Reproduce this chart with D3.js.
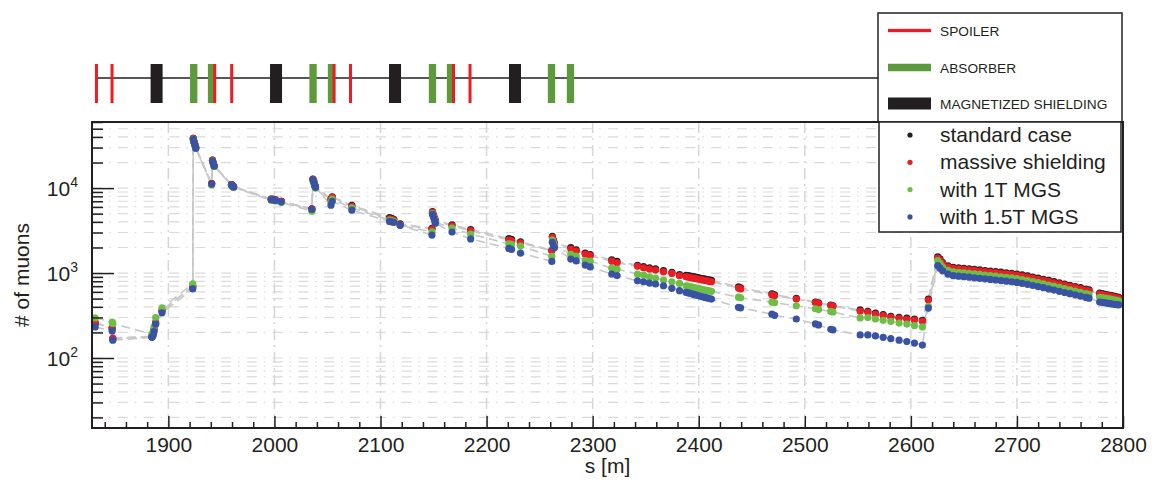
<!DOCTYPE html>
<meta charset="utf-8">
<head>
<style>
  body { margin: 0; background: #fff; }
  text { font-family: "Liberation Sans", Arial, Helvetica, sans-serif; fill: #231f20; }
</style>
</head>
<script src="https://d3js.org/d3.v7.min.js"></script>
<body>
<div id="my_dataviz"></div>
<script>
// ---- data ----
var sPos = [1831, 1847, 1847.6, 1884.5, 1885.5, 1886.5, 1888, 1894,
  1923, 1923.5, 1924.2, 1925, 1925.8,
  1940.8, 1941.6, 1942.4, 1943.2, 1959.5, 1960.5, 1961.5,
  1997, 1999, 2001, 2006.5,
  2035.3, 2036.3, 2037.1, 2037.9, 2038.7, 2053.3, 2054.5, 2073,
  2108.5, 2110.5, 2112.5, 2118.5,
  2148.5, 2149, 2150, 2151, 2151.8, 2167.4, 2185,
  2221, 2223.5, 2232,
  2261.5, 2262, 2263, 2264, 2279.4, 2284.5, 2293, 2297.7, 2318, 2323,
  2342.3, 2348, 2353.6, 2359.3, 2366.8, 2374.7, 2381.9,
  2388, 2390, 2392, 2394, 2396, 2398, 2400, 2402, 2404, 2406, 2408, 2410, 2412,
  2437.5, 2439.5, 2469, 2471.5, 2492, 2510, 2513, 2524.5, 2526.5,
  2552.2, 2559.4, 2566.6, 2573.9, 2581.1, 2588.9, 2596.2, 2603.4, 2610.9,
  2616.5, 2625.3, 2627.5,
  2630, 2635, 2640, 2645, 2650, 2655, 2660, 2665, 2670, 2675, 2680, 2685, 2690, 2695, 2700,
  2705, 2710, 2715, 2720, 2725, 2730, 2735, 2740, 2745, 2750, 2755, 2760, 2765, 2768,
  2778, 2780, 2782, 2784, 2786, 2788, 2790, 2792, 2794, 2796];

var standardCase = [255, 225, 168, 178, 188, 215, 255, 360,
  690, 38500, 35000, 32500, 30000,
  11300, 21300, 19600, 18300, 11000, 10600, 10400,
  7400, 7350, 7250, 7000,
  5700, 12800, 11900, 11000, 10400, 7400, 7900, 6250,
  4500, 4400, 4300, 3800,
  3350, 5300, 4850, 4450, 4150, 3700, 3250,
  2550, 2500, 2330,
  1850, 2700, 2450, 2250, 2000, 1880, 1720, 1650, 1430, 1370,
  1235, 1190, 1148, 1117, 1066, 1021, 957,
  941, 931, 920, 910, 900, 889, 879, 869, 860, 850, 840, 831, 822,
  690, 670, 570, 555, 505, 455, 445, 420, 412,
  368, 355, 337, 324, 310, 302, 294, 288, 278,
  495, 1550, 1470,
  1332, 1218, 1170, 1154, 1138, 1123, 1105, 1090, 1072, 1058, 1041, 1025, 1008, 992, 973,
  950, 924, 897, 871, 846, 818, 792, 766, 742, 719, 695, 672, 648, 636,
  580, 572, 565, 558, 551, 545, 538, 531, 524, 518];

var massiveShielding = [265, 220, 172, 180, 190, 220, 262, 365,
  700, 38500, 35000, 32500, 30000,
  11300, 21300, 19600, 18300, 11000, 10600, 10400,
  7400, 7350, 7250, 7000,
  5650, 12700, 11900, 11000, 10400, 7300, 7800, 6100,
  4350, 4300, 4200, 3700,
  3300, 5200, 4800, 4400, 4100, 3600, 3150,
  2450, 2400, 2270,
  1830, 2630, 2400, 2200, 1920, 1810, 1670, 1600, 1380, 1320,
  1199, 1154, 1114, 1084, 1035, 991, 929,
  905, 895, 885, 875, 865, 855, 845, 836, 827, 817, 808, 799, 790,
  665, 650, 555, 540, 494, 450, 438, 415, 408,
  357, 345, 327, 315, 301, 293, 285, 280, 270,
  481, 1500, 1420,
  1293, 1183, 1136, 1120, 1105, 1090, 1073, 1058, 1041, 1027, 1011, 995, 979, 963, 945,
  922, 897, 871, 846, 821, 794, 769, 744, 720, 698, 675, 652, 629, 617,
  566, 558, 551, 545, 538, 532, 525, 518, 512, 505];

var withMGS1T = [296, 265, 255, 190, 200, 235, 300, 390,
  745, 37500, 34500, 32000, 29500,
  10900, 21000, 19300, 18000, 10800, 10400, 10200,
  7200, 7150, 7050, 6800,
  5350, 12300, 11500, 10600, 10000, 6800, 7400, 5850,
  4200, 4150, 4050, 3650,
  3050, 5000, 4600, 4250, 3950, 3380, 2870,
  2200, 2180, 2080,
  1570, 2450, 2250, 2100, 1660, 1580, 1400, 1380, 1140, 1110,
  973, 946, 904, 873, 827, 790, 757,
  709, 700, 691, 682, 673, 665, 656, 648, 640, 632, 624, 616, 609,
  520, 512, 455, 448, 412, 380, 372, 353, 348,
  296, 299, 288, 278, 270, 258, 251, 240, 232,
  405, 1400, 1300,
  1177, 1077, 1034, 1019, 1006, 992, 976, 963, 947, 935, 920, 905, 891, 876, 860,
  839, 816, 793, 770, 747, 723, 700, 677, 655, 635, 614, 593, 572, 561,
  518, 513, 508, 503, 498, 493, 487, 482, 477, 472];

var withMGS15T = [232, 208, 162, 175, 183, 205, 250, 340,
  650, 37500, 34700, 32000, 29500,
  11150, 21000, 19400, 18100, 10900, 10500, 10300,
  7300, 7250, 7150, 6900,
  5600, 12500, 11700, 10800, 10200, 6300, 7000, 5500,
  4050, 4000, 3950, 3650,
  2800, 4900, 4500, 4150, 3850, 3040, 2520,
  1950, 1900, 1720,
  1370, 2300, 2100, 2000, 1460, 1390, 1240, 1180, 975, 935,
  811, 790, 762, 743, 709, 661, 620,
  593, 584, 575, 566, 557, 549, 540, 532, 524, 516, 509, 501, 494,
  395, 390, 328, 318, 288, 252, 245, 218, 214,
  187, 187, 182, 175, 169, 162, 156, 150, 142,
  387, 1220, 1140,
  1060, 970, 932, 918, 906, 894, 880, 868, 854, 842, 829, 816, 803, 790, 775,
  756, 736, 714, 694, 673, 651, 631, 610, 590, 572, 554, 535, 516, 506,
  456, 452, 448, 444, 440, 436, 432, 428, 425, 421];

var seriesNames = ["standard case", "massive shielding", "with 1T MGS", "with 1.5T MGS"];
var seriesColors = ["#231f20", "#ec1c24", "#6dbe45", "#3953a4"];

// beam line elements (centre position in s)
var spoilerS = [1832.2, 1846.9, 1943.7, 1959.7, 2056.2, 2071.7, 2168.8, 2184.4];
var absorberS = [1923.9, 1940.7, 2036.4, 2053.8, 2149, 2166, 2261.2, 2279.1];
var mgsS = [1888.9, 2001.5, 2113.7, 2226.8];
var elementNames = ["SPOILER", "ABSORBER", "MAGNETIZED SHIELDING"];

var xTickLabels = [1900, 2000, 2100, 2200, 2300, 2400, 2500, 2600, 2700, 2800];
var yTickLabels = [100, 1000, 10000];

// ---- layout ----
var margin = {top: 122, right: 29, bottom: 53, left: 92},
    width = 1152 - margin.left - margin.right,
    height = 481 - margin.top - margin.bottom;

var svg = d3.select("#my_dataviz")
  .append("svg")
    .attr("width", 1152)
    .attr("height", 481);

var chartG = svg.append("g")
    .attr("transform", "translate(" + margin.left + "," + margin.top + ")");

var x = d3.scaleLinear().domain([1828, 2800]).range([0, width]);
var y = d3.scaleLog().domain([15, 60000]).range([height, 0]);

svg.append("defs").append("clipPath").attr("id", "plotclip")
  .append("rect").attr("width", width).attr("height", height);

// grid
chartG.append("g").selectAll("line")
  .data(y.ticks())
  .join("line")
    .attr("x1", 0).attr("x2", width)
    .attr("y1", function(d) { return y(d); })
    .attr("y2", function(d) { return y(d); })
    .attr("stroke", "#dadada")
    .attr("stroke-width", 1.2)
    .attr("stroke-dasharray", "10,7,1.5,7.3");

chartG.append("g").selectAll("line")
  .data(xTickLabels.slice(0, -1))
  .join("line")
    .attr("x1", function(d) { return x(d); })
    .attr("x2", function(d) { return x(d); })
    .attr("y1", 0).attr("y2", height)
    .attr("stroke", "#d6d6d6")
    .attr("stroke-width", 1.5)
    .attr("stroke-dasharray", "11,5,2,5");

// series
var series = seriesNames.map(function(name, i) {
  var vals = [standardCase, massiveShielding, withMGS1T, withMGS15T][i];
  return {
    name: name,
    color: seriesColors[i],
    points: sPos.map(function(s, j) { return {s: s, v: vals[j]}; })
  };
});

var plotG = chartG.append("g").attr("clip-path", "url(#plotclip)");

var line = d3.line()
  .x(function(d) { return x(d.s); })
  .y(function(d) { return y(d.v); });

plotG.selectAll(".conn")
  .data(series)
  .join("path")
    .attr("class", "conn")
    .attr("d", function(d) { return line(d.points); })
    .attr("fill", "none")
    .attr("stroke", "#c8c8c8")
    .attr("stroke-width", 1.6)
    .attr("stroke-dasharray", "9,5");

series.forEach(function(sr) {
  plotG.append("g").selectAll("circle")
    .data(sr.points)
    .join("circle")
      .attr("cx", function(d) { return x(d.s); })
      .attr("cy", function(d) { return y(d.v); })
      .attr("r", 3.6)
      .style("fill", sr.color);
});

// axes
var xMinor = d3.range(1840, 2800, 20).filter(function(d) { return d % 100 != 0; });
chartG.append("g")
  .attr("transform", "translate(0," + height + ")")
  .call(d3.axisBottom(x).tickValues(xMinor).tickSize(-6).tickFormat(""))
  .call(function(g) { g.select(".domain").remove(); });

var xAxis = chartG.append("g")
  .attr("transform", "translate(0," + height + ")")
  .call(d3.axisBottom(x).tickValues(xTickLabels).tickSize(-12).tickPadding(9).tickFormat(d3.format("d")));
xAxis.select(".domain").remove();
xAxis.selectAll("text").style("font-size", "21px").attr("fill", "#231f20");

var yMinor = y.ticks().filter(function(d) { return yTickLabels.indexOf(d) < 0; });
chartG.append("g")
  .call(d3.axisLeft(y).tickValues(yMinor).tickSize(-11).tickFormat(""))
  .call(function(g) { g.select(".domain").remove(); });
chartG.append("g")
  .call(d3.axisLeft(y).tickValues(yTickLabels).tickSize(-22).tickFormat(""))
  .call(function(g) { g.select(".domain").remove(); });

chartG.selectAll(".tick line").attr("stroke", "#231f20").attr("stroke-width", 1.5);

var yLab = chartG.append("g").selectAll("text")
  .data(yTickLabels)
  .join("text")
    .attr("x", -14)
    .attr("y", function(d) { return y(d) + 7.5; })
    .attr("text-anchor", "end")
    .style("font-size", "21px");
yLab.append("tspan").text("10");
yLab.append("tspan")
  .attr("dy", -9)
  .style("font-size", "14px")
  .text(function(d) { return Math.round(Math.log10(d)); });

// frame
chartG.append("rect")
  .attr("width", width).attr("height", height)
  .attr("fill", "none")
  .attr("stroke", "#231f20")
  .attr("stroke-width", 2);

// axis titles
svg.append("text")
  .attr("x", margin.left + width / 2)
  .attr("y", 473)
  .attr("text-anchor", "middle")
  .style("font-size", "21px")
  .text("s [m]");

svg.append("text")
  .attr("transform", "translate(29," + (margin.top + height / 2) + ") rotate(-90)")
  .attr("text-anchor", "middle")
  .style("font-size", "21px")
  .text("# of muons");

// beam line strip
var strip = svg.append("g");
strip.append("line")
  .attr("x1", margin.left + 4).attr("x2", 878)
  .attr("y1", 78).attr("y2", 78)
  .attr("stroke", "#231f20").attr("stroke-width", 1.6);

var elementStyles = [
  {data: mgsS, color: "#231f20", w: 12},
  {data: absorberS, color: "#5c9a3c", w: 7.3},
  {data: spoilerS, color: "#ed1c24", w: 3}
];
elementStyles.forEach(function(el) {
  strip.append("g").selectAll("rect")
    .data(el.data)
    .join("rect")
      .attr("x", function(d) { return margin.left + x(d) - el.w / 2; })
      .attr("y", 64)
      .attr("width", el.w)
      .attr("height", 39)
      .attr("fill", el.color);
});

// element legend
svg.append("rect")
  .attr("x", 878).attr("y", 13).attr("width", 244).attr("height", 109)
  .attr("fill", "#fff").attr("stroke", "#231f20").attr("stroke-width", 1.5);

var elLegend = [
  {name: elementNames[0], color: "#ed1c24", w: 3.3, y: 30.5},
  {name: elementNames[1], color: "#5c9a3c", w: 7.5, y: 67.5},
  {name: elementNames[2], color: "#231f20", w: 12, y: 103.5}
];
elLegend.forEach(function(d) {
  svg.append("rect")
    .attr("x", 888).attr("y", d.y - d.w / 2)
    .attr("width", 43).attr("height", d.w)
    .attr("fill", d.color);
  svg.append("text")
    .attr("x", 940).attr("y", d.y + 5)
    .style("font-size", "13.7px")
    .text(d.name);
});

// series legend
svg.append("rect")
  .attr("x", 879).attr("y", 122).attr("width", 242).attr("height", 110)
  .attr("fill", "#fff").attr("stroke", "#231f20").attr("stroke-width", 1.5);

seriesNames.forEach(function(name, i) {
  var cy = 135 + i * 27.3;
  svg.append("circle")
    .attr("cx", 910).attr("cy", cy).attr("r", 2.6)
    .style("fill", seriesColors[i]);
  svg.append("text")
    .attr("x", 940).attr("y", cy + 7)
    .style("font-size", "21px")
    .text(name);
});
</script>
</body>
